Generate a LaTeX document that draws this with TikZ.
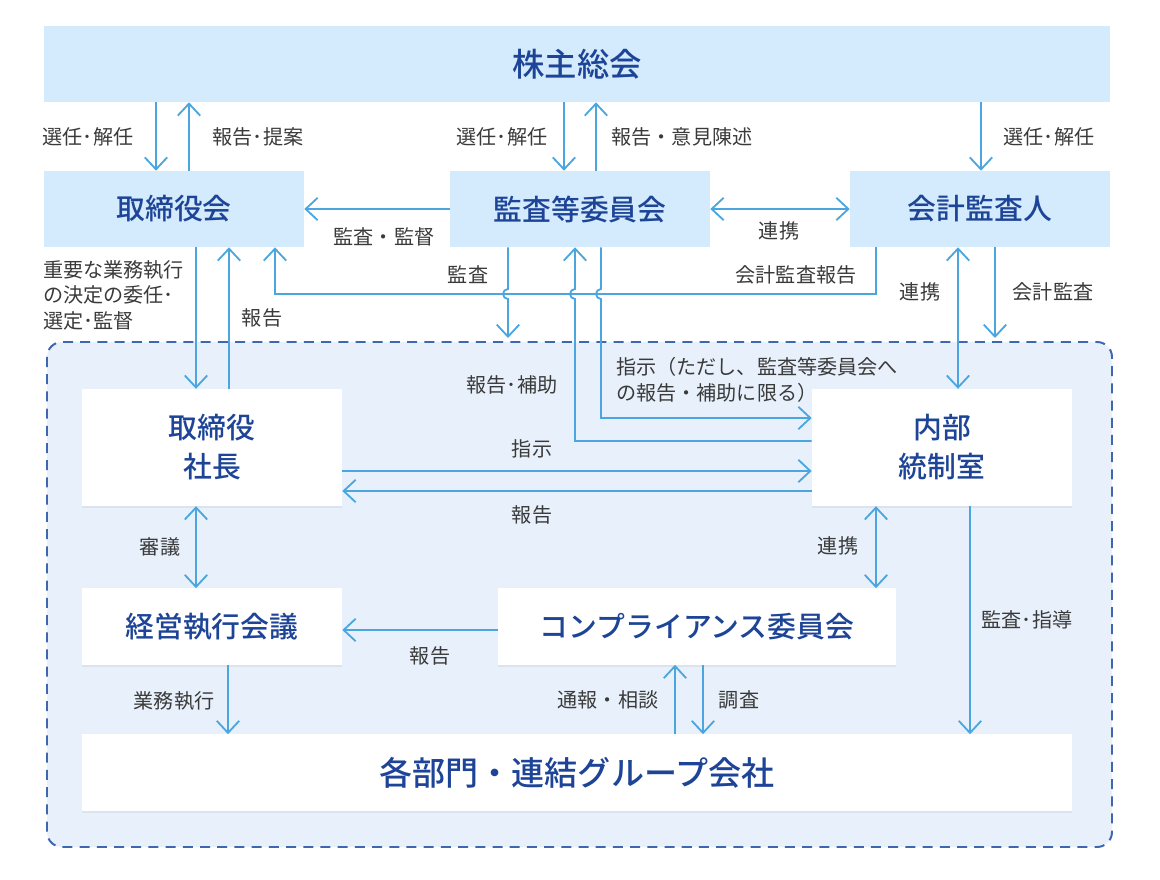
\documentclass[tikz,border=0pt]{standalone}
\usepackage{fontspec}
\setmainfont{Noto Sans CJK JP}[BoldFont={Noto Sans CJK JP Medium}]
\usetikzlibrary{arrows.meta,shadows}
\definecolor{boxblue}{HTML}{D3EBFC}
\definecolor{textblue}{HTML}{1D4497}
\definecolor{lineblue}{HTML}{4BA6DF}
\definecolor{groupfill}{HTML}{E8F1FB}
\definecolor{dashblue}{HTML}{3F67AF}
\definecolor{labelgray}{HTML}{3A3A3A}
\newcommand{\boxw}{6.5cm}
\newcommand{\boxh}{1.9cm}
\newcommand{\bump}{0.125cm}

\tikzset{
  headbox/.style={fill=boxblue, text=textblue, inner sep=0pt,
    font=\fontsize{20.5}{27.7}\selectfont\bfseries,
    minimum width=\boxw, minimum height=\boxh},
  innerbox/.style={headbox, fill=white,
    drop shadow={opacity=0.12, shadow xshift=0pt, shadow yshift=-1.5pt}},
  arr/.style={draw=lineblue, line width=1.3pt},
  lbl/.style={text=labelgray, inner sep=0pt,
    font=\fontsize{14.3}{18.2}\selectfont},
  >={Straight Barb[length=3mm,width=5.6mm]}
}

\begin{document}
\begin{tikzpicture}[x=0.025cm, y=-0.025cm]
    \useasboundingbox (0,0) rectangle (1160,880);
    % execution side
    \draw[fill=groupfill, draw=dashblue, line width=1.4pt,
          dash pattern=on 0.25cm off 0.18cm, rounded corners=0.375cm]
        (47,342) rectangle (1112,847);

    \node[headbox, minimum width=26.65cm,
          font=\fontsize{23}{28}\selectfont\bfseries] (kabu) at (577,64) {株主総会};
    \node[headbox] (tori) at (174,209) {取締役会};
    \node[headbox] (kansa) at (580,209) {監査等委員会};
    \node[headbox] (kaikei) at (980,209) {会計監査人};

    \node[innerbox, minimum height=2.92cm, align=center] (shacho) at (212,447.5) {取締役\\社長};
    \node[innerbox, minimum height=2.92cm, align=center] (naibu) at (942,447.5) {内部\\統制室};
    \node[innerbox] (keiei) at (212,626.5) {経営執行会議};
    \node[innerbox, minimum width=9.95cm] (comp) at (697,626.5) {コンプライアンス委員会};
    \node[innerbox, minimum width=24.75cm,
          font=\fontsize{23.5}{28}\selectfont\bfseries] (bumon) at (577,772.5) {各部門・連結グループ会社};

    \coordinate (kansaEnd) at (508,338);
    \coordinate (kaikeiEnd) at (995,338);

    % shareholders
    \draw[arr,->] (156,0 |- kabu.south) -- (156,0 |- tori.north);
    \draw[arr,->] (189,0 |- tori.north) -- (189,0 |- kabu.south);
    \draw[arr,->] (564,0 |- kabu.south) -- (564,0 |- kansa.north);
    \draw[arr,->] (596,0 |- kansa.north) -- (596,0 |- kabu.south);
    \draw[arr,->] (981,0 |- kabu.south) -- (981,0 |- kaikei.north);
    \node[lbl] (l1) at (88,137) {選任･解任};
    \node[lbl] (l2) at (258,137) {報告･提案};
    \node[lbl] (l3) at (502,137) {選任･解任};
    \node[lbl] (l4) at (682,137) {報告・意見陳述};
    \node[lbl] (l5) at (1049,137) {選任･解任};

    \draw[arr,->] (kansa.west) -- (tori.east);
    \draw[arr,<->] (kansa.east) -- (kaikei.west);
    \node[lbl] (l6) at (384,237) {監査・監督};
    \node[lbl] (l7) at (779,231) {連携};

    % audit report and the lines that jump over it
    \draw[arr,->] (876,0 |- kaikei.south) -- (876,294) -- (275,294) -- (275,0 |- tori.south);
    \draw[arr,->] (508,0 |- kansa.south) -- (508,289)
        arc[start angle=90, end angle=270, radius=\bump] -- (kansaEnd);
    \draw[arr,->] (naibu.west |- 0,441) -- (575,441) -- (575,299)
        arc[start angle=-90, end angle=-270, radius=\bump] -- (575,0 |- kansa.south);
    \draw[arr,->] (601,0 |- kansa.south) -- (601,289)
        arc[start angle=90, end angle=270, radius=\bump] -- (601,418) -- (naibu.west |- 0,418);
    \node[lbl] (l8) at (468,275) {監査};
    \node[lbl] (l9) at (796,275) {会計監査報告};
    \node[lbl] (l10) at (512,385) {報告･補助};
    \node[lbl, anchor=west, align=left] (l11) at (616,380)
        {指示（ただし、監査等委員会へ\\の報告・補助に限る）};

    \draw[arr,->] (196,0 |- tori.south) -- (196,0 |- shacho.north);
    \draw[arr,->] (229,0 |- shacho.north) -- (229,0 |- tori.south);
    \node[lbl, anchor=west, align=left] (l12) at (43,295)
        {重要な業務執行\\の決定の委任･\\選定･監督};
    \node[lbl] (l13) at (262,318) {報告};

    \draw[arr,<->] (958,0 |- kaikei.south) -- (958,0 |- naibu.north);
    \draw[arr,->] (995,0 |- kaikei.south) -- (kaikeiEnd);
    \node[lbl] (l14) at (920,292) {連携};
    \node[lbl] (l15) at (1053,292) {会計監査};

    % inside the group
    \draw[arr,->] (shacho.east |- 0,471) -- (naibu.west |- 0,471);
    \draw[arr,->] (naibu.west |- 0,491) -- (shacho.east |- 0,491);
    \node[lbl] (l16) at (532,449) {指示};
    \node[lbl] (l17) at (532,515) {報告};

    \draw[arr,<->] (196,0 |- shacho.south) -- (196,0 |- keiei.north);
    \draw[arr,<->] (876,0 |- naibu.south) -- (876,0 |- comp.north);
    \draw[arr,->] (comp.west |- 0,630) -- (keiei.east |- 0,630);
    \node[lbl] (l18) at (160,547) {審議};
    \node[lbl] (l19) at (838,546) {連携};
    \node[lbl] (l20) at (430,656) {報告};

    \draw[arr,->] (228,0 |- keiei.south) -- (228,0 |- bumon.north);
    \draw[arr,->] (675,0 |- bumon.north) -- (675,0 |- comp.south);
    \draw[arr,->] (703,0 |- comp.south) -- (703,0 |- bumon.north);
    \draw[arr,->] (970,0 |- naibu.south) -- (970,0 |- bumon.north);
    \node[lbl] (l21) at (174,701) {業務執行};
    \node[lbl] (l22) at (608,700) {通報・相談};
    \node[lbl] (l23) at (739,700) {調査};
    \node[lbl] (l24) at (1027,620) {監査･指導};
\end{tikzpicture}
\end{document}
